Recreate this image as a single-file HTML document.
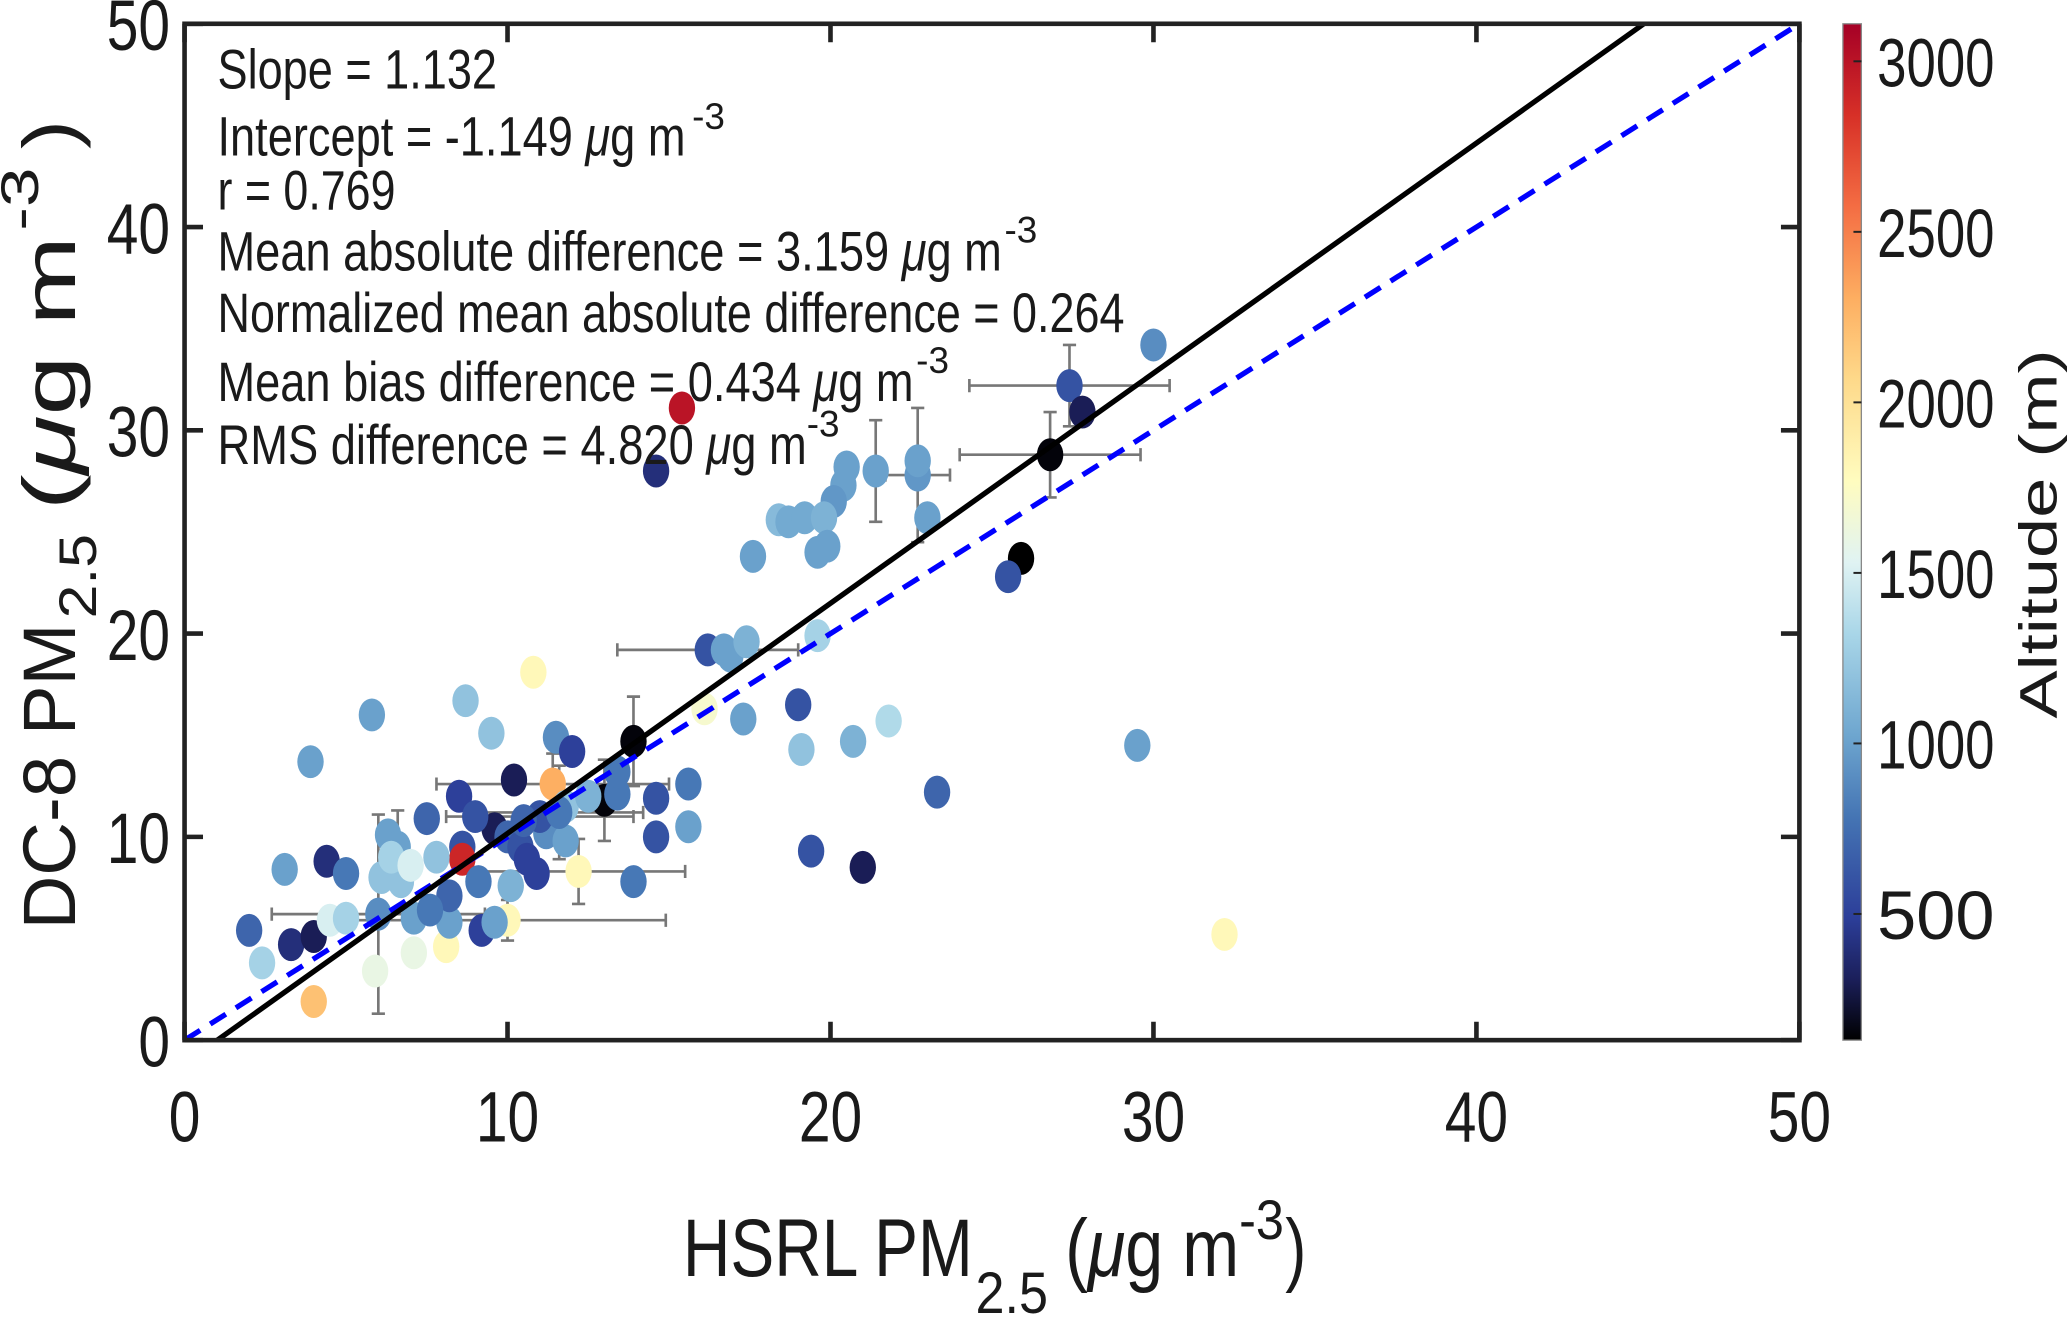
<!DOCTYPE html>
<html><head><meta charset="utf-8"><style>
html,body{margin:0;padding:0;background:#fff;}
svg{display:block;}
text{font-family:"Liberation Sans",sans-serif;fill:#1a1a1a;}
</style></head><body>
<svg id="chart" width="2067" height="1321" viewBox="0 0 1568 1002" xmlns="http://www.w3.org/2000/svg">
<defs>
<linearGradient id="cmap" x1="0" y1="1" x2="0" y2="0">
<stop offset="0" stop-color="#000000"/>
<stop offset="0.06" stop-color="#1b1f5a"/>
<stop offset="0.12" stop-color="#2c3e99"/>
<stop offset="0.22" stop-color="#4575b4"/>
<stop offset="0.30" stop-color="#6ea6cf"/>
<stop offset="0.40" stop-color="#a9d6e8"/>
<stop offset="0.47" stop-color="#e0f3f3"/>
<stop offset="0.55" stop-color="#fffcbf"/>
<stop offset="0.65" stop-color="#fed98a"/>
<stop offset="0.73" stop-color="#fdae61"/>
<stop offset="0.82" stop-color="#f46d43"/>
<stop offset="0.91" stop-color="#d73027"/>
<stop offset="1" stop-color="#a50026"/>
</linearGradient>
</defs>
<g id="grid"></g>
<g id="errs"></g>
<g id="pts"></g>
<g id="lines"></g>
<g id="axes"></g>

<g font-size="42">
<text x="165" y="67" textLength="212" lengthAdjust="spacingAndGlyphs">Slope = 1.132</text>
<text x="165" y="118" textLength="355" lengthAdjust="spacingAndGlyphs">Intercept = -1.149 <tspan font-style="italic">μ</tspan>g m</text>
<text x="525" y="98" font-size="28">-3</text>
<text x="165" y="159" textLength="135" lengthAdjust="spacingAndGlyphs">r = 0.769</text>
<text x="165" y="205" textLength="595" lengthAdjust="spacingAndGlyphs">Mean absolute difference = 3.159 <tspan font-style="italic">μ</tspan>g m</text>
<text x="762" y="184" font-size="28">-3</text>
<text x="165" y="252" textLength="688" lengthAdjust="spacingAndGlyphs">Normalized mean absolute difference = 0.264</text>
<text x="165" y="304" textLength="528" lengthAdjust="spacingAndGlyphs">Mean bias difference = 0.434 <tspan font-style="italic">μ</tspan>g m</text>
<text x="695" y="283" font-size="28">-3</text>
<text x="165" y="352" textLength="447" lengthAdjust="spacingAndGlyphs">RMS difference = 4.820 <tspan font-style="italic">μ</tspan>g m</text>
<text x="612" y="331" font-size="28">-3</text>
</g>

<g>
<text x="518" y="968" font-size="62" textLength="220" lengthAdjust="spacingAndGlyphs">HSRL PM</text>
<text x="740" y="996" font-size="44" textLength="55" lengthAdjust="spacingAndGlyphs">2.5</text>
<text x="808" y="968" font-size="62" textLength="132" lengthAdjust="spacingAndGlyphs">(<tspan font-style="italic">μ</tspan>g m</text>
<text x="940" y="940" font-size="42" textLength="34" lengthAdjust="spacingAndGlyphs">-3</text>
<text x="975" y="968" font-size="62" textLength="16" lengthAdjust="spacingAndGlyphs">)</text>
</g>

<g transform="translate(57,705) rotate(-90)">
<text x="0" y="0" font-size="56" textLength="232" lengthAdjust="spacingAndGlyphs">DC-8 PM</text>
<text x="236" y="16" font-size="40" textLength="64" lengthAdjust="spacingAndGlyphs">2.5</text>
<text x="318" y="0" font-size="56" textLength="208" lengthAdjust="spacingAndGlyphs">(<tspan font-style="italic">μ</tspan>g m</text>
<text x="530" y="-28" font-size="40" textLength="48" lengthAdjust="spacingAndGlyphs">-3</text>
<text x="592" y="0" font-size="56" textLength="22" lengthAdjust="spacingAndGlyphs">)</text>
</g>

<g>
<rect x="1398" y="18" width="14" height="771" fill="url(#cmap)" stroke="#888" stroke-width="1"/>
<g id="cbticks"></g>
<text transform="translate(1560,545) rotate(-90)" font-size="40" textLength="280" lengthAdjust="spacingAndGlyphs">Altitude (m)</text>
</g>
</svg>
<script>
// ---- data ----
const hsrl = [30.0,27.4,27.8,26.8,25.9,25.5,15.4,14.6,20.5,20.4,20.1,21.4,22.7,22.7,23.0,18.4,18.7,19.2,19.8,19.9,19.6,17.6,16.2,16.7,16.9,17.4,19.6,19.0,19.1,20.7,21.8,17.3,16.1,29.5,23.3,19.4,21.0,32.2,13.9,13.0,10.8,8.7,9.5,5.8,3.9,11.5,12.0,13.4,13.4,15.6,15.6,14.6,14.6,13.9,12.2,11.4,10.2,9.6,8.5,7.5,8.6,8.6,10.0,10.4,10.6,10.9,11.2,11.8,11.8,3.1,4.4,5.0,6.3,6.6,6.1,6.7,2.0,2.4,3.3,4.0,4.0,5.9,4.5,5.0,6.0,7.1,7.1,8.1,10.0,9.2,8.2,9.6,7.8,9.1,8.2,7.6,10.1,11.0,10.5,12.5,9.0,11.6,6.4,7.0];
const dc8  = [34.2,32.2,30.9,28.8,23.7,22.8,31.1,28.0,28.2,27.3,26.5,28.0,27.8,28.5,25.7,25.6,25.5,25.7,25.7,24.3,24.0,23.8,19.2,19.2,18.9,19.6,19.9,16.5,14.3,14.7,15.7,15.8,16.3,14.5,12.2,9.3,8.5,5.2,14.7,11.8,18.1,16.7,15.1,16.0,13.7,14.9,14.2,12.1,13.2,12.6,10.5,11.9,10.0,7.8,8.3,12.6,12.8,10.4,12.0,10.9,9.5,8.9,10.0,9.5,8.9,8.2,10.2,11.5,9.8,8.4,8.8,8.2,10.1,9.5,8.0,7.8,5.4,3.8,4.7,5.1,1.9,3.4,5.9,6.0,6.2,6.0,4.3,4.6,5.9,5.4,5.8,5.8,9.0,7.8,7.1,6.4,7.6,11.0,10.8,12.0,11.0,11.2,9.0,8.6];
const altitude = [900,600,300,150,130,600,3000,400,1000,1000,950,1000,950,1000,1000,1150,1050,1050,1100,1000,1000,1000,600,1000,1000,1100,1300,600,1200,1100,1350,1000,1700,1000,700,600,300,1800,150,150,1800,1200,1200,1000,1000,900,500,800,800,800,1000,600,600,800,1800,2300,300,300,500,700,600,2900,700,600,500,500,900,1200,1000,1000,400,800,1000,1000,1200,1200,700,1300,400,300,2200,1600,1500,1300,900,1000,1600,1800,1800,500,1000,1000,1200,800,700,800,1100,600,700,1100,600,800,1300,1500];
const errIdx = [1,3,12,11,22,38,39,55,84,88,54,101,73,97];
const xErr = [3.1,2.8,1.0,0,2.8,0,0,3.6,3.3,4.9,3.3,2.6,0,2.9];
const yErr = [2.0,2.1,3.3,2.5,0,2.2,2.0,1.5,4.9,1.0,1.6,2.3,1.8,0];
const xTicks = [0,10,20,30,40,50];
const yTicks = [0,10,20,30,40,50];
const cbTicks = [500,1000,1500,2000,2500,3000];
const fitSlope = 1.132, fitIntercept = -1.149;

// ---- scales ----
const L=140,R=1365,T=18,B=789;
const xs = v => L + (v/50)*(R-L);
const ys = v => B - (v/50)*(B-T);
const altMin=130, altMax=3110;
const cs = a => B - (a-altMin)/(altMax-altMin)*(B-T);
const NS='http://www.w3.org/2000/svg';
function mk(tag, attrs, parent){const e=document.createElementNS(NS,tag);for(const k in attrs)e.setAttribute(k,attrs[k]);parent.appendChild(e);return e;}

const stops=[[0,[0,0,0]],[0.06,[27,31,90]],[0.12,[44,62,153]],[0.22,[69,117,180]],[0.30,[110,166,207]],[0.40,[169,214,232]],[0.47,[224,243,243]],[0.55,[255,252,191]],[0.65,[254,217,138]],[0.73,[253,174,97]],[0.82,[244,109,67]],[0.91,[215,48,39]],[1,[165,0,38]]];
function color(a){let t=(a-altMin)/(altMax-altMin);t=Math.max(0,Math.min(1,t));
 for(let i=1;i<stops.length;i++){if(t<=stops[i][0]){const t0=stops[i-1][0],c0=stops[i-1][1],t1=stops[i][0],c1=stops[i][1];const f=(t-t0)/(t1-t0);
 return 'rgb('+c0.map((c,j)=>Math.round(c+(c1[j]-c)*f)).join(',')+')';}}return 'rgb(165,0,38)';}

// error bars
const eg=document.getElementById('errs');
errIdx.forEach((i,k)=>{
 const cx=xs(hsrl[i]), cy=ys(dc8[i]);
 if(xErr[k]>0){const x1=xs(hsrl[i]-xErr[k]),x2=xs(hsrl[i]+xErr[k]);
  const l=mk('path',{d:`M${x1},${cy}H${x2}M${x1},${cy-5}V${cy+5}M${x2},${cy-5}V${cy+5}`,stroke:'#777','stroke-width':2,fill:'none'},eg);
  
  }
 if(yErr[k]>0){const y1=ys(dc8[i]-yErr[k]),y2=ys(dc8[i]+yErr[k]);
  const l=mk('path',{d:`M${cx},${y1}V${y2}M${cx-5},${y1}H${cx+5}M${cx-5},${y2}H${cx+5}`,stroke:'#777','stroke-width':2,fill:'none'},eg);
  
  }
});
// points
const pg=document.getElementById('pts');
hsrl.forEach((x,i)=>{
 const e=mk('ellipse',{cx:xs(x),cy:ys(dc8[i]),rx:10,ry:12.5,fill:color(altitude[i])},pg);
 
 
});
// lines
const lg=document.getElementById('lines');
const one=mk('line',{x1:xs(0),y1:ys(0),x2:xs(50),y2:ys(50),stroke:'#0000ff','stroke-width':4,'stroke-dasharray':'14,9'},lg);


const xa=-fitIntercept/fitSlope, xb=(50-fitIntercept)/fitSlope;
const fit=mk('line',{x1:xs(xa),y1:ys(0),x2:xs(xb),y2:ys(50),stroke:'#000','stroke-width':4},lg);


// axes
const ag=document.getElementById('axes');
const box=mk('rect',{x:L,y:T,width:R-L,height:B-T,fill:'none',stroke:'#222','stroke-width':3.5},ag);


xTicks.forEach(v=>{const x=xs(v);
 mk('path',{d:`M${x},${B}V${B-14}M${x},${T}V${T+14}`,stroke:'#222','stroke-width':3.5},ag);
 const t=mk('text',{x:x,y:866,'text-anchor':'middle','font-size':54,textLength:(String(v).length*24),lengthAdjust:'spacingAndGlyphs'},ag);
 t.textContent=v;
 
 
});
yTicks.forEach(v=>{const y=ys(v);
 mk('path',{d:`M${L},${y}H${L+14}M${R},${y}H${R-14}`,stroke:'#222','stroke-width':3.5},ag);
 const t=mk('text',{x:129,y:y+20,'text-anchor':'end','font-size':54,textLength:(String(v).length*24),lengthAdjust:'spacingAndGlyphs'},ag);
 t.textContent=v;
 
 
});
const cg=document.getElementById('cbticks');
cbTicks.forEach(v=>{const y=cs(v);
 mk('line',{x1:1406,x2:1412,y1:y,y2:y,stroke:'#222','stroke-width':1.5},cg);
 const t=mk('text',{x:1424,y:y+19,'font-size':52,textLength:89,lengthAdjust:'spacingAndGlyphs'},cg);
 t.textContent=v;
 
 
});
</script>
</body></html>
